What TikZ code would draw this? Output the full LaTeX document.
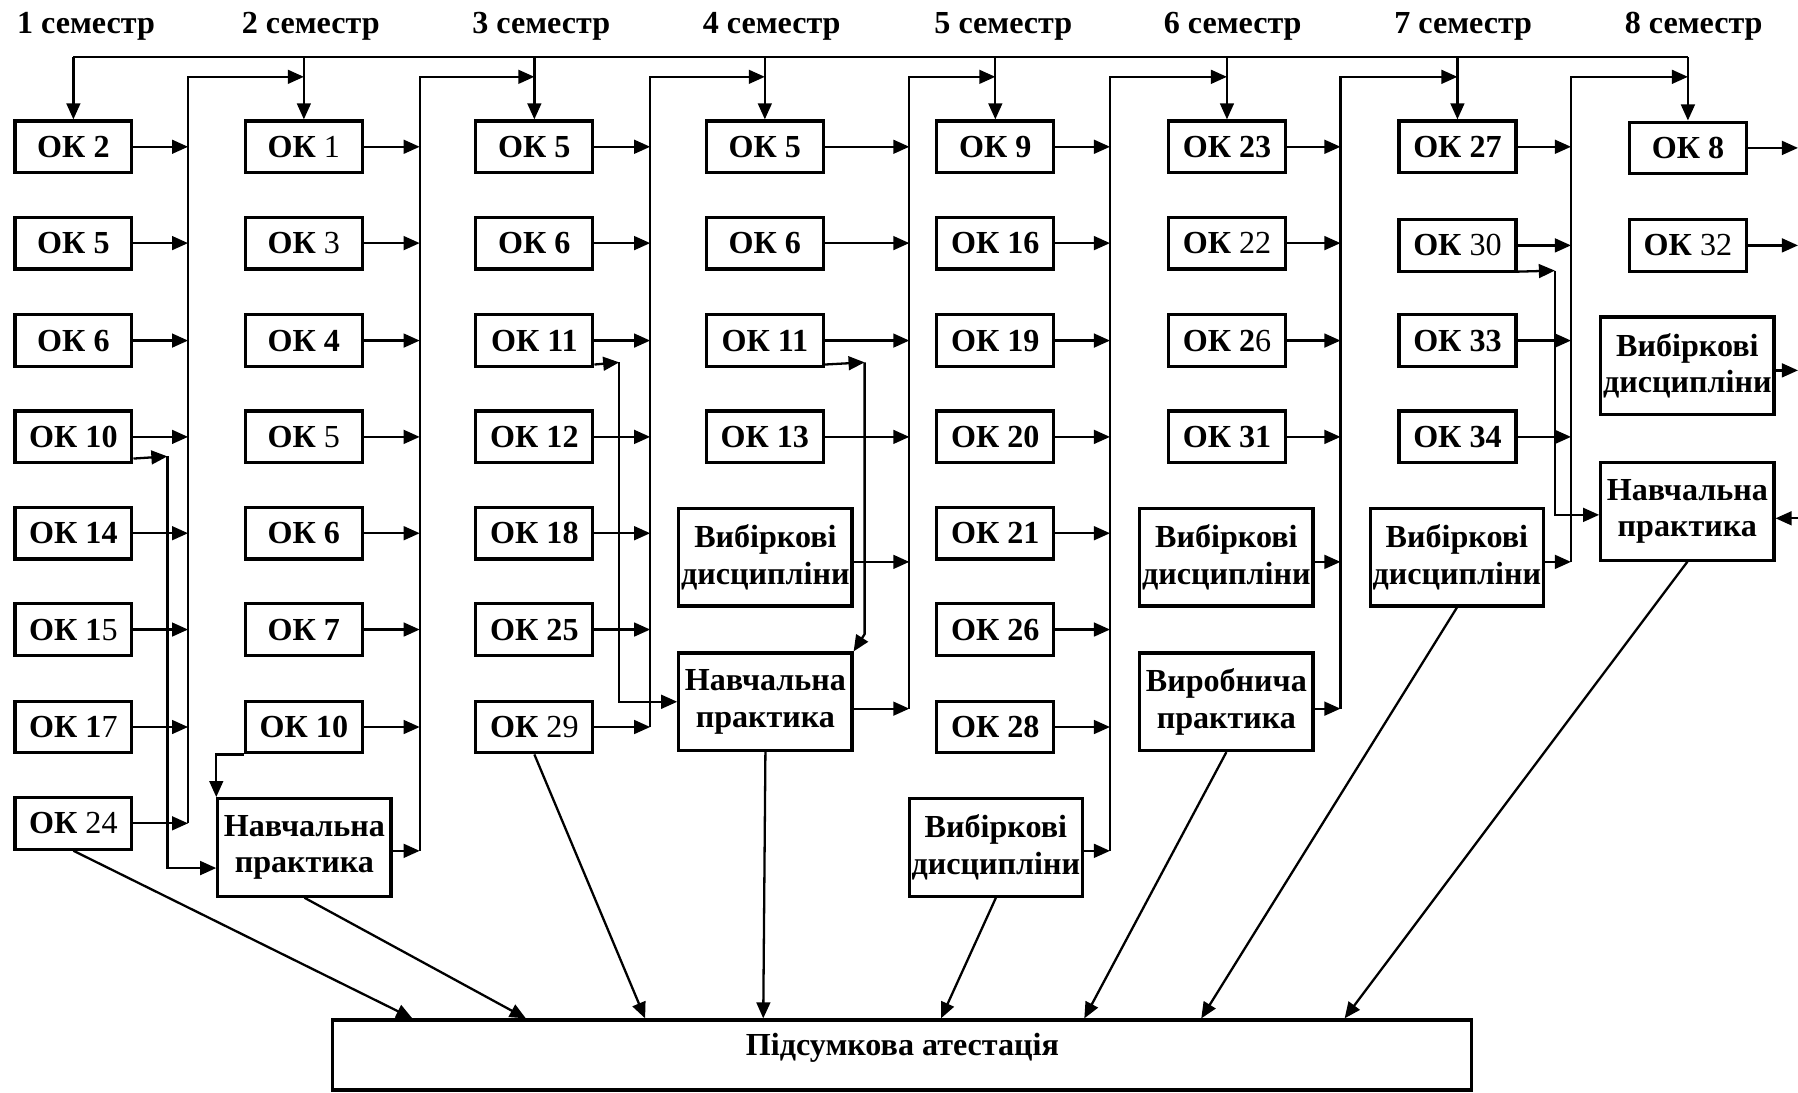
\documentclass[tikz,border=0pt]{standalone}
\usepackage{fontspec}
\setmainfont{Liberation Serif}
\usetikzlibrary{arrows.meta,calc}
\newcommand\mdn[1]{\textmd{#1}}
\begin{document}
\begin{tikzpicture}[x=1pt,y=-1pt,
  every node/.style={font=\bfseries\fontsize{28}{32}\selectfont},
  ok/.style={draw, line width=2.8pt, minimum width=102pt, minimum height=45pt, inner sep=0pt},
  big/.style={draw, line width=2.8pt, minimum width=151pt, minimum height=85pt, inner sep=0pt, align=center},
  arr/.style={line width=2pt, -{Triangle[length=14pt,width=12pt]}},
  ln/.style={line width=2pt},
  hdr/.style={inner sep=0pt}]
\useasboundingbox (0,0) rectangle (1568,953);

% headers
\node[hdr] (h1) at (75,23) {1 семестр};
\node[hdr] (h2) at (271,23) {2 семестр};
\node[hdr] (h3) at (472,23) {3 семестр};
\node[hdr] (h4) at (673,23) {4 семестр};
\node[hdr] (h5) at (875,23) {5 семестр};
\node[hdr] (h6) at (1075,23) {6 семестр};
\node[hdr] (h7) at (1276,23) {7 семестр};
\node[hdr] (h8) at (1477,23) {8 семестр};

% column 1
\node[ok] (c1r1) at (64,128) {ОК 2};
\node[ok] (c1r2) at (64,212) {ОК 5};
\node[ok] (c1r3) at (64,297) {ОК 6};
\node[ok] (c1r4) at (64,381) {ОК 10};
\node[ok] (c1r5) at (64,465) {ОК 14};
\node[ok] (c1r6) at (64,549) {ОК 1\mdn{5}};
\node[ok] (c1r7) at (64,634) {ОК 1\mdn{7}};
\node[ok] (c1r8) at (64,718) {ОК \mdn{24}};

% column 2
\node[ok] (c2r1) at (265,128) {ОК \mdn{1}};
\node[ok] (c2r2) at (265,212) {ОК \mdn{3}};
\node[ok] (c2r3) at (265,297) {ОК 4};
\node[ok] (c2r4) at (265,381) {ОК \mdn{5}};
\node[ok] (c2r5) at (265,465) {ОК 6};
\node[ok] (c2r6) at (265,549) {ОК 7};
\node[ok] (c2r7) at (265,634) {ОК 10};
\node[big] (np2) at (265.5,739) {Навчальна\\практика};

% column 3
\node[ok] (c3r1) at (466,128) {ОК 5};
\node[ok] (c3r2) at (466,212) {ОК 6};
\node[ok] (c3r3) at (466,297) {ОК 11};
\node[ok] (c3r4) at (466,381) {ОК 12};
\node[ok] (c3r5) at (466,465) {ОК 18};
\node[ok] (c3r6) at (466,549) {ОК 25};
\node[ok] (c3r7) at (466,634) {ОК \mdn{29}};

% column 4
\node[ok] (c4r1) at (667,128) {ОК 5};
\node[ok] (c4r2) at (667,212) {ОК 6};
\node[ok] (c4r3) at (667,297) {ОК 11};
\node[ok] (c4r4) at (667,381) {ОК 13};
\node[big] (vd4) at (667.5,486) {Вибіркові\\дисципліни};
\node[big] (np4) at (667.5,612) {Навчальна\\практика};

% column 5
\node[ok] (c5r1) at (868,128) {ОК 9};
\node[ok] (c5r2) at (868,212) {ОК 16};
\node[ok] (c5r3) at (868,297) {ОК 19};
\node[ok] (c5r4) at (868,381) {ОК 20};
\node[ok] (c5r5) at (868,465) {ОК 21};
\node[ok] (c5r6) at (868,549) {ОК 26};
\node[ok] (c5r7) at (868,634) {ОК 28};
\node[big] (vd5) at (868.5,739) {Вибіркові\\дисципліни};

% column 6
\node[ok] (c6r1) at (1070,128) {ОК 23};
\node[ok] (c6r2) at (1070,212) {ОК \mdn{22}};
\node[ok] (c6r3) at (1070,297) {ОК 2\mdn{6}};
\node[ok] (c6r4) at (1070,381) {ОК 31};
\node[big] (vd6) at (1069.5,486) {Вибіркові\\дисципліни};
\node[big] (vp6) at (1069.5,612) {Виробнича\\практика};

% column 7
\node[ok] (c7r1) at (1271,128) {ОК 27};
\node[ok] (c7r2) at (1271,214) {ОК \mdn{30}};
\node[ok] (c7r3) at (1271,297) {ОК 33};
\node[ok] (c7r4) at (1271,381) {ОК 34};
\node[big] (vd7) at (1270.5,486) {Вибіркові\\дисципліни};

% column 8
\node[ok] (c8r1) at (1472,129) {ОК 8};
\node[ok] (c8r2) at (1472,214) {ОК \mdn{32}};
\node[big] (vd8) at (1471.5,319) {Вибіркові\\дисципліни};
\node[big] (np8) at (1471.5,446) {Навчальна\\практика};

% final box
\node[draw, line width=2.8pt, minimum width=993pt, minimum height=61pt, inner sep=0pt] (fin) at (786.5,920) {};
\node[inner sep=0pt] (fint) at (787,914) {Підсумкова атестація};

% bus coordinates
\coordinate (t) at (0,50);
\coordinate (b1) at (164,67);
\coordinate (b2) at (366,67);
\coordinate (b3) at (567,67);
\coordinate (b4) at (793,67);
\coordinate (b5) at (968,67);
\coordinate (b6) at (1169,67);
\coordinate (b7) at (1370,67);
\coordinate (e) at (1568,0);

% top line and drops
\draw[ln] (c1r1 |- t) -- (c8r1 |- t);
\foreach \n in {c1r1,c2r1,c3r1,c4r1,c5r1,c6r1,c7r1,c8r1}
  \draw[arr] (\n |- t) -- (\n.north);

% buses
\draw[arr] (b1 |- c1r8) -- (b1) -- (b1 -| c2r1);
\draw[arr] ($(b2 |- np2)+(0,3)$) -- (b2) -- (b2 -| c3r1);
\draw[arr] (b3 |- c3r7) -- (b3) -- (b3 -| c4r1);
\draw[arr] ($(b4 |- np4)+(0,6)$) -- (b4) -- (b4 -| c5r1);
\draw[arr] ($(b5 |- vd5)+(0,3)$) -- (b5) -- (b5 -| c6r1);
\draw[arr] ($(b6 |- vp6)+(0,6)$) -- (b6) -- (b6 -| c7r1);
\draw[arr] ($(b7 |- vd7)+(0,4)$) -- (b7) -- (b7 -| c8r1);

% arrows into buses
\foreach \r in {1,...,8} \draw[arr] (c1r\r.east) -- (c1r\r.east -| b1);
\foreach \r in {1,...,7} \draw[arr] (c2r\r.east) -- (c2r\r.east -| b2);
\draw[arr] ($(np2.east)+(0,3)$) -- ($(np2.east -| b2)+(0,3)$);
\foreach \r in {1,...,7} \draw[arr] (c3r\r.east) -- (c3r\r.east -| b3);
\foreach \r in {1,...,4} \draw[arr] (c4r\r.east) -- (c4r\r.east -| b4);
\draw[arr] ($(vd4.east)+(0,4)$) -- ($(vd4.east -| b4)+(0,4)$);
\draw[arr] ($(np4.east)+(0,6)$) -- ($(np4.east -| b4)+(0,6)$);
\foreach \r in {1,...,7} \draw[arr] (c5r\r.east) -- (c5r\r.east -| b5);
\draw[arr] ($(vd5.east)+(0,3)$) -- ($(vd5.east -| b5)+(0,3)$);
\foreach \r in {1,...,4} \draw[arr] (c6r\r.east) -- (c6r\r.east -| b6);
\draw[arr] ($(vd6.east)+(0,4)$) -- ($(vd6.east -| b6)+(0,4)$);
\draw[arr] ($(vp6.east)+(0,6)$) -- ($(vp6.east -| b6)+(0,6)$);
\foreach \r in {1,...,4} \draw[arr] (c7r\r.east) -- (c7r\r.east -| b7);
\draw[arr] ($(vd7.east)+(0,4)$) -- ($(vd7.east -| b7)+(0,4)$);
\foreach \n in {c8r1,c8r2} \draw[arr] (\n.east) -- (\n.east -| e);
\draw[arr] ($(vd8.east)+(0,4)$) -- ($(vd8.east -| e)+(0,4)$);
\draw[arr] ($(np8.east -| e)+(0,6)$) -- ($(np8.east)+(0,6)$);

% branch connectors
\coordinate (k1) at (146,398);
\draw[arr] ($(c1r4.south east)+(0,-5)$) -- (k1);
\draw[arr] (k1) |- ($(np2.west)+(0,18)$);
\draw[arr] (c2r7.south west) -| (np2.north west);
\coordinate (k3) at (540,316);
\draw[arr] ($(c3r3.south east)+(0,-3)$) -- (k3);
\draw[arr] (k3) |- (np4.west);
\coordinate (k4) at (754,316);
\coordinate (k4b) at (754,553);
\draw[arr] ($(c4r3.south east)+(0,-3)$) -- (k4);
\draw[arr] (k4) -- (k4b) -- (np4.north east);
\coordinate (k7) at (1356,236);
\draw[arr] ($(c7r2.south east)+(0,-1)$) -- (k7);
\draw[arr] (k7) |- ($(np8.west)+(0,3)$);

% to final attestation
\draw[arr] (c1r8.south) -- ($(fin.north west)+(71,0)$);
\draw[arr] (np2.south) -- ($(fin.north west)+(170,0)$);
\draw[arr] (c3r7.south) -- ($(fin.north west)+(274,0)$);
\draw[arr] (np4.south) -- ($(fin.north west)+(377,0)$);
\draw[arr] (vd5.south) -- ($(fin.north west)+(532,0)$);
\draw[arr] (vp6.south) -- ($(fin.north west)+(657,0)$);
\draw[arr] (vd7.south) -- ($(fin.north west)+(759,0)$);
\draw[arr] (np8.south) -- ($(fin.north west)+(884,0)$);
\end{tikzpicture}
\end{document}
